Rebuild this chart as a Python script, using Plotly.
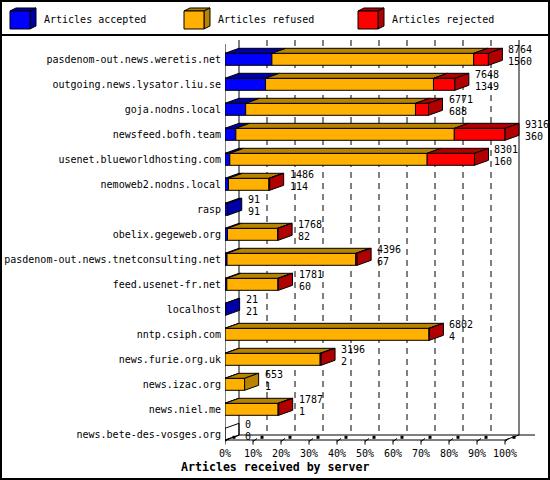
import plotly.graph_objects as go

# ---------------- data ----------------
servers = [
    "pasdenom-out.news.weretis.net", "outgoing.news.lysator.liu.se", "goja.nodns.local",
    "newsfeed.bofh.team", "usenet.blueworldhosting.com", "nemoweb2.nodns.local", "rasp",
    "obelix.gegeweb.org", "pasdenom-out.news.tnetconsulting.net", "feed.usenet-fr.net",
    "localhost", "nntp.csiph.com", "news.furie.org.uk", "news.izac.org", "news.niel.me",
    "news.bete-des-vosges.org",
]
total_received = [8764, 7648, 6771, 9316, 8301, 1486, 91, 1768, 4396, 1781, 21, 6802, 3196, 653, 1787, 0]
accepted = [1560, 1349, 688, 360, 160, 114, 91, 82, 67, 60, 21, 4, 2, 1, 1, 0]
refused = [6714, 5587, 5650, 7269, 6566, 1347, 0, 1666, 4284, 1701, 0, 6783, 3164, 652, 1766, 0]
rejected = [490, 712, 433, 1687, 1575, 25, 0, 20, 45, 20, 0, 15, 30, 0, 20, 0]
x_tick_values = [0, 10, 20, 30, 40, 50, 60, 70, 80, 90, 100]
x_tick_labels = ["0%", "10%", "20%", "30%", "40%", "50%", "60%", "70%", "80%", "90%", "100%"]
series_names = ["Articles accepted", "Articles refused", "Articles rejected"]

# ---------------- styling / layout ----------------
FONT = "DejaVu Sans Mono"
W, H = 550, 480
ML, MR, MT, MB = 225, 5, 38, 34
PX_PER_PCT = 2.8
PX_PER_ROW = 25.0
ROW0_PX = 59.3
PLOT_W = W - ML - MR
PLOT_H = H - MT - MB

front_cols = ["#0000FF", "#FFB000", "#FF0000"]
dark_cols = ["#0000A8", "#B88400", "#B00000"]


def ky(py):  # pixel row -> y data units
    return (py - ROW0_PX) / PX_PER_ROW


def px(x, y):  # pixel -> paper
    return (x - ML) / PLOT_W, (H - MB - y) / PLOT_H


DX = 14.0 / PX_PER_PCT
DY = -5.0 / PX_PER_ROW
HALF = 0.24

scale = 100.0 / max(total_received)
rows = list(range(len(servers)))
series = [accepted, refused, rejected]

fig = go.Figure()

# front faces (bars)
cum = [0.0] * len(servers)
for s, vals in enumerate(series):
    xs, bases = [], []
    for i, v in enumerate(vals):
        w = v * scale
        xs.append(w if v > 0 else None)
        bases.append(cum[i])
        cum[i] += w
    fig.add_trace(go.Bar(
        x=xs, y=rows, base=bases, orientation="h", width=2 * HALF,
        marker=dict(color=front_cols[s], line=dict(color="black", width=1)),
        showlegend=False, hoverinfo="skip",
    ))

# top faces
for s in range(3):
    tx, ty = [], []
    for i in rows:
        start = sum(series[j][i] for j in range(s)) * scale
        v = series[s][i]
        if v <= 0:
            continue
        end = start + v * scale
        yt = i - HALF
        tx += [start, end, end + DX, start + DX, start, None]
        ty += [yt, yt, yt + DY, yt + DY, yt, None]
    fig.add_trace(go.Scatter(
        x=tx, y=ty, mode="lines", fill="toself", fillcolor=dark_cols[s],
        line=dict(color="black", width=1), showlegend=False, hoverinfo="skip",
    ))

# side faces
side = {c: ([], []) for c in range(-1, 3)}
for i in rows:
    last = -1
    for s in range(3):
        if series[s][i] > 0:
            last = s
    x1 = total_received[i] * scale
    sx, sy = side[last]
    sx += [x1, x1, x1 + DX, x1 + DX, x1, None]
    sy += [i + HALF, i - HALF, i - HALF + DY, i + HALF + DY, i + HALF, None]
for c, (sx, sy) in side.items():
    if not sx:
        continue
    fig.add_trace(go.Scatter(
        x=sx, y=sy, mode="lines", fill="toself",
        fillcolor=dark_cols[c] if c >= 0 else "rgba(0,0,0,0)",
        line=dict(color="black", width=1), showlegend=False, hoverinfo="skip",
    ))

# floor ticks
tkx, tky, sqx, sqy = [], [], [], []
for v in x_tick_values:
    tkx += [v, v, None, v, v + 4 / PX_PER_PCT, None]
    tky += [ky(440), ky(444.5), None, ky(441.5), ky(438.5), None]
    sqx.append(v + 9 / PX_PER_PCT)
    sqy.append(ky(437.3))
fig.add_trace(go.Scatter(x=tkx, y=tky, mode="lines", line=dict(color="black", width=1),
                         showlegend=False, hoverinfo="skip"))
fig.add_trace(go.Scatter(x=sqx, y=sqy, mode="markers",
                         marker=dict(symbol="square", size=3, color="black"),
                         showlegend=False, hoverinfo="skip"))

shapes = []
# dashed grid lines on back wall
for v in x_tick_values[1:-1]:
    shapes.append(dict(type="line", xref="x", yref="y", x0=v + DX, x1=v + DX,
                       y0=ky(40), y1=ky(435), layer="below",
                       line=dict(color="black", width=1, dash="6px,5px")))
# back wall edges
for v in (0, 100):
    shapes.append(dict(type="line", xref="x", yref="y", x0=v + DX, x1=v + DX,
                       y0=ky(40), y1=ky(435), layer="below", line=dict(color="black", width=1)))
# front axis line
shapes.append(dict(type="line", xref="x", yref="y", x0=0, x1=0, y0=ky(44), y1=ky(440),
                   layer="below", line=dict(color="black", width=1)))
# floor
floor_lines = [
    (0, ky(440), 100, ky(440)),
    (DX, ky(435), (535 - ML) / PX_PER_PCT, ky(435)),
    (-16 / PX_PER_PCT, ky(445.7), DX, ky(435)),
    (100, ky(440), 100 + DX, ky(435)),
]
for x0, y0, x1, y1 in floor_lines:
    shapes.append(dict(type="line", xref="x", yref="y", x0=x0, y0=y0, x1=x1, y1=y1,
                       layer="below", line=dict(color="black", width=1)))

# outer frame and legend separator
a = px(1, 1); b = px(549, 479)
shapes.append(dict(type="rect", xref="paper", yref="paper", x0=a[0], y0=a[1], x1=b[0], y1=b[1],
                   line=dict(color="black", width=2)))
a = px(0, 35); b = px(550, 35)
shapes.append(dict(type="line", xref="paper", yref="paper", x0=a[0], y0=a[1], x1=b[0], y1=b[1],
                   line=dict(color="black", width=2)))

annotations = []
# legend cubes
leg_x = [10, 184, 358]
for s in range(3):
    x0 = leg_x[s]
    x1 = x0 + 20
    y0, y1 = 11, 29
    ddx, ddy = 6, -3

    def P(x, y):
        p = px(x, y)
        return f"{p[0]:.5f},{p[1]:.5f}"
    front = f"M{P(x0, y0)} L{P(x1, y0)} L{P(x1, y1)} L{P(x0, y1)} Z"
    top = f"M{P(x0, y0)} L{P(x0 + ddx, y0 + ddy)} L{P(x1 + ddx, y0 + ddy)} L{P(x1, y0)} Z"
    sidep = f"M{P(x1, y0)} L{P(x1 + ddx, y0 + ddy)} L{P(x1 + ddx, y1 + ddy)} L{P(x1, y1)} Z"
    shapes.append(dict(type="path", xref="paper", yref="paper", path=top,
                       fillcolor=dark_cols[s], line=dict(color="black", width=1)))
    shapes.append(dict(type="path", xref="paper", yref="paper", path=sidep,
                       fillcolor=dark_cols[s], line=dict(color="black", width=1)))
    shapes.append(dict(type="path", xref="paper", yref="paper", path=front,
                       fillcolor=front_cols[s], line=dict(color="black", width=1)))
    tp = px(x0 + 32, 20)
    annotations.append(dict(xref="paper", yref="paper", x=tp[0], y=tp[1], text=series_names[s],
                            showarrow=False, xanchor="left", yanchor="middle",
                            font=dict(family=FONT, size=10, color="black")))

# value labels
for i in rows:
    xr = total_received[i] * scale + DX
    for txt, ys in ((str(total_received[i]), 4.5), (str(accepted[i]), -7)):
        annotations.append(dict(xref="x", yref="y", x=xr, y=i + DY, text=txt, showarrow=False,
                                xanchor="left", yanchor="middle", xshift=4, yshift=ys,
                                font=dict(family=FONT, size=10, color="black")))

# axis title
tp = px(275, 467)
annotations.append(dict(xref="paper", yref="paper", x=tp[0], y=tp[1],
                        text="<b>Articles received by server</b>", showarrow=False,
                        xanchor="center", yanchor="middle",
                        font=dict(family=FONT, size=11.6, color="black")))

fig.update_layout(
    width=W, height=H, margin=dict(l=ML, r=MR, t=MT, b=MB),
    paper_bgcolor="white", plot_bgcolor="white", barmode="overlay",
    shapes=shapes, annotations=annotations, showlegend=False,
    font=dict(family=FONT, size=10, color="black"),
)
fig.update_xaxes(range=[0, PLOT_W / PX_PER_PCT], tickvals=x_tick_values, ticktext=x_tick_labels,
                 showgrid=False, zeroline=False, showline=False, ticks="", ticklen=0,
                 tickfont=dict(family=FONT, size=10, color="black"), fixedrange=True)
fig.update_yaxes(range=[ky(H - MB), ky(MT)], tickvals=rows, ticktext=servers,
                 showgrid=False, zeroline=False, showline=False, ticks="", ticklen=0,
                 ticklabelstandoff=3,
                 tickfont=dict(family=FONT, size=10, color="black"), fixedrange=True)

fig.write_html("out.html", config={"displayModeBar": False},
               post_script="document.body.style.margin='0px';document.body.style.padding='0px';")
